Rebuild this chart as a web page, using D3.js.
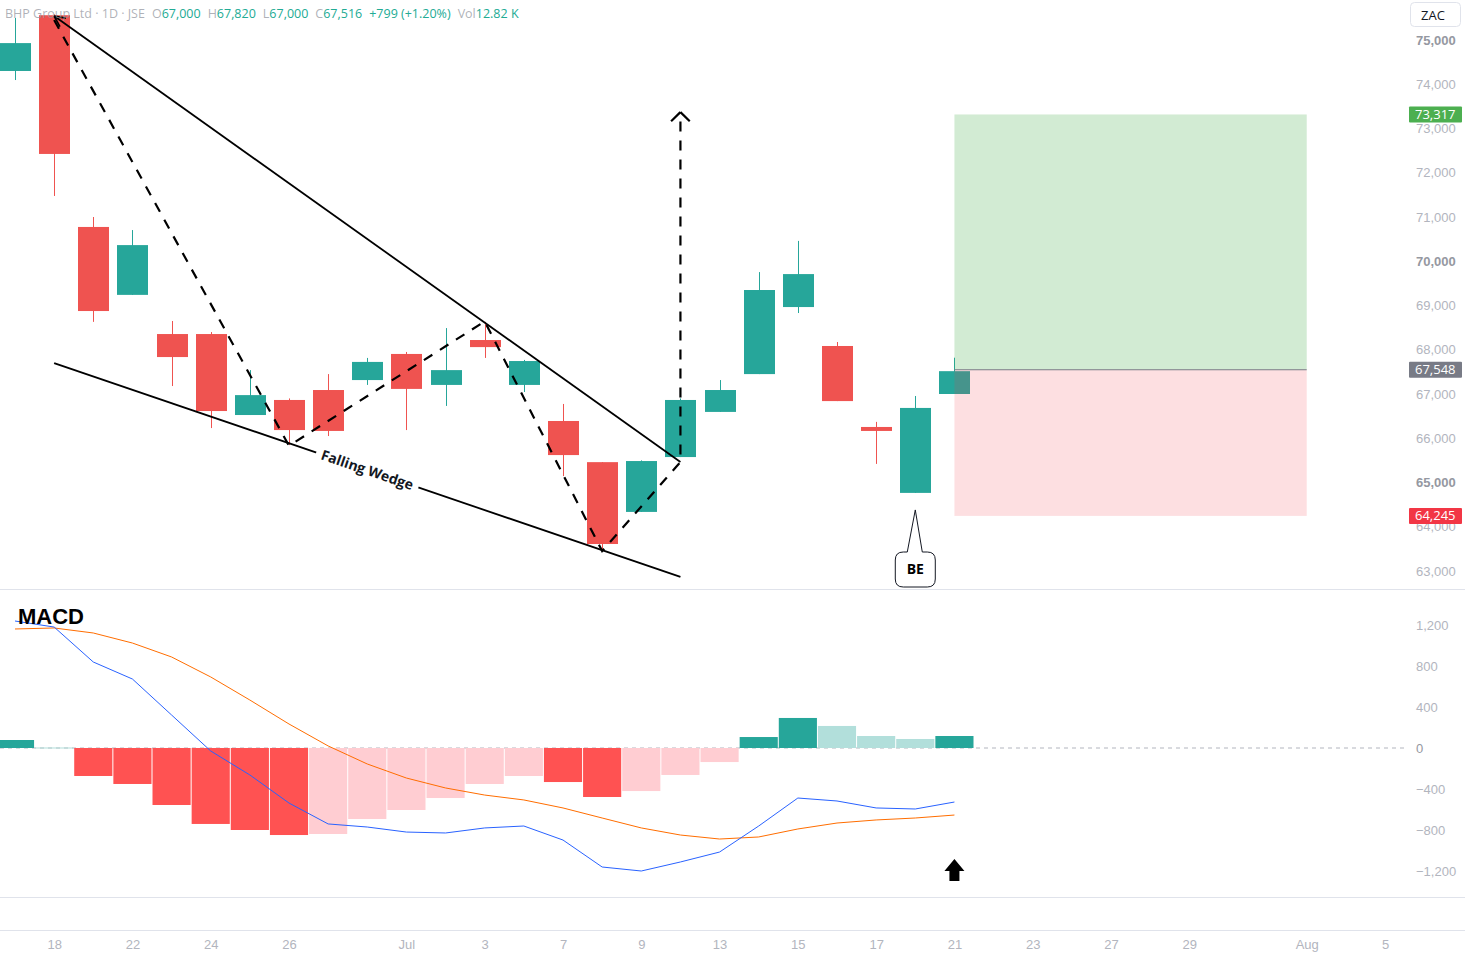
<!DOCTYPE html>
<html><head><meta charset="utf-8">
<script src="https://cdn.jsdelivr.net/npm/d3@7"></script>
<style>
body{margin:0;background:#fff}
svg{display:block;font-family:"Open Sans","Liberation Sans",Arial,sans-serif}
</style>
</head><body><svg id="c" width="1465" height="956"></svg>
<script>
// ---------- DATA ----------
const dates = ["Jun 17","Jun 18","Jun 19","Jun 22","Jun 23","Jun 24","Jun 25","Jun 26","Jun 29","Jun 30","Jul 1","Jul 2","Jul 3","Jul 6","Jul 7","Jul 8","Jul 9","Jul 10","Jul 13","Jul 14","Jul 15","Jul 16","Jul 17","Jul 20","Jul 21"];
const futureDays = ["Jul 22","Jul 23","Jul 24","Jul 27","Jul 28","Jul 29","Jul 30","Jul 31","Aug 3","Aug 4","Aug 5"];
const opens  = [74300,75560,70775,69240,68355,68355,66525,66865,67090,67315,67905,67205,68220,67205,66390,65460,64335,65575,66595,67450,68965,68085,66255,64765,67000];
const highs  = [75500,75580,71000,70705,68650,68400,67540,66900,67450,67815,67950,68490,68630,67770,66775,65460,65500,66900,67315,69755,70460,68175,66370,66955,67820];
const lows   = [74095,71475,68630,69240,67180,66230,66525,65845,66050,67205,66185,66730,67815,67045,65145,63450,64335,65575,66595,67450,68830,66840,65420,64765,67000];
const closes = [74930,72425,68875,70365,67835,66615,66975,66185,66165,67725,67115,67540,68060,67745,65620,63610,65485,66865,67090,69350,69710,66840,66165,66685,67516];

const macdLine   = [1239,1180,839,673,322,-29,-263,-537,-741,-771,-820,-829,-780,-761,-898,-1161,-1200,-1112,-1015,-761,-488,-517,-585,-595,-527];
const signalLine = [1161,1171,1122,1024,888,693,468,234,20,-156,-293,-390,-459,-507,-585,-683,-780,-849,-888,-868,-790,-732,-702,-683,-654];
const histogram  = [78,5,-273,-351,-556,-741,-800,-849,-839,-693,-605,-488,-351,-273,-332,-478,-420,-263,-137,107,293,215,117,88,117];

const priceTicks = [63000,64000,65000,66000,67000,68000,69000,70000,71000,72000,73000,74000,75000];
const boldPriceTicks = [65000,70000,75000];
const macdTicks = [-1200,-800,-400,0,400,800,1200];
const timeTickDays = ["Jun 18","Jun 22","Jun 24","Jun 26","Jul 1","Jul 3","Jul 7","Jul 9","Jul 13","Jul 15","Jul 17","Jul 21","Jul 23","Jul 27","Jul 29","Aug 3","Aug 5"];
const timeTickLabels = ["18","22","24","26","Jul","3","7","9","13","15","17","21","23","27","29","Aug","5"];

// position tool
const entryPrice = 67548, targetPrice = 73317, stopPrice = 64245;
const positionStart = "Jul 21", positionEnd = "Aug 3";

// drawings
const wedgeUpper = [["Jun 18",75540],["Jul 10",65465]];
const wedgeLower = [["Jun 18",67700],["Jul 10",62865]];
const zigzag = [["Jun 18",75450],["Jun 26",65830],["Jul 3",68640],["Jul 8",63450],["Jul 10",65465],["Jul 10",73370]];
const beAnchor = ["Jul 20",64380];
const upArrowAnchor = ["Jul 21",-1190];

const header = {name:"BHP Group Ltd · 1D · JSE", o:"67,000", h:"67,820", l:"67,000", c:"67,516", chg:"+799 (+1.20%)", vol:"12.82 K"};

// ---------- SCALES ----------
const W = 1465, H = 956;
const axisDays = dates.concat(futureDays);
const x = d3.scalePoint().domain(axisDays).range([15, 1385]);
const step = x.step();
const yP = d3.scaleLinear().domain([63000, 75000]).range([571, 40]);
const yM = d3.scaleLinear().domain([-1200, 1200]).range([871, 625]);

const up = "#26a69a", down = "#ef5350";
const svg = d3.select("#c");
const FS = 13;

// separators
const sepColor = "#e0e3eb";
[589.5, 897.5, 930.5].forEach(y => svg.append("line").attr("x1",0).attr("x2",W).attr("y1",y).attr("y2",y).attr("stroke",sepColor).attr("stroke-width",1));

// ---------- CANDLES ----------
const bodyW = 31;
const cg = svg.append("g");
dates.forEach((d,i) => {
  const col = closes[i] >= opens[i] ? up : down;
  const cx = Math.round(x(d)) + 0.5;
  cg.append("line").attr("x1",cx).attr("x2",cx).attr("y1",yP(highs[i])).attr("y2",yP(lows[i])).attr("stroke",col).attr("stroke-width",1);
  const top = yP(Math.max(opens[i],closes[i])), bot = yP(Math.min(opens[i],closes[i]));
  cg.append("rect").attr("x",Math.round(x(d)) - 15).attr("width",bodyW).attr("y",top).attr("height",Math.max(1,bot-top)).attr("fill",col);
});

// ---------- POSITION BOX ----------
const px0 = x(positionStart), px1 = x(positionEnd);
svg.append("rect").attr("x",px0).attr("width",px1-px0).attr("y",yP(targetPrice)).attr("height",yP(entryPrice)-yP(targetPrice)).attr("fill","rgba(76,175,80,0.25)");
svg.append("rect").attr("x",px0).attr("width",px1-px0).attr("y",yP(entryPrice)).attr("height",yP(stopPrice)-yP(entryPrice)).attr("fill","rgba(242,54,69,0.16)");
svg.append("line").attr("x1",px0).attr("x2",px1).attr("y1",yP(entryPrice)).attr("y2",yP(entryPrice)).attr("stroke","#787b86").attr("stroke-width",1);

// ---------- DRAWINGS ----------
const pt = p => [x(p[0]), yP(p[1])];
const dg = svg.append("g").attr("fill","none").attr("stroke","#000");
const u0 = pt(wedgeUpper[0]), u1 = pt(wedgeUpper[1]);
dg.append("line").attr("x1",u0[0]).attr("y1",u0[1]).attr("x2",u1[0]).attr("y2",u1[1]).attr("stroke-width",1.8);
function arrowHead(tip, from, len, spread, sw){
  const a = Math.atan2(tip[1]-from[1], tip[0]-from[0]);
  [a+Math.PI-spread, a+Math.PI+spread].forEach(b => {
    dg.append("line").attr("x1",tip[0]).attr("y1",tip[1]).attr("x2",tip[0]+len*Math.cos(b)).attr("y2",tip[1]+len*Math.sin(b)).attr("stroke-width",sw);
  });
}
arrowHead(u0, u1, 12, 0.45, 1.8);
const l0 = pt(wedgeLower[0]), l1 = pt(wedgeLower[1]);
dg.append("line").attr("x1",l0[0]).attr("y1",l0[1]).attr("x2",l1[0]).attr("y2",l1[1]).attr("stroke-width",1.8);
const zz = zigzag.map(pt);
dg.append("path").attr("d", d3.line()(zz)).attr("stroke-width",2.2).attr("stroke-dasharray","10,9");
arrowHead(zz[zz.length-1], zz[zz.length-2], 13, 0.8, 2.2);

// wedge label
const mx = (l0[0]+l1[0])/2, my = (l0[1]+l1[1])/2;
const ang = Math.atan2(l1[1]-l0[1], l1[0]-l0[0]) * 180/Math.PI;
const lbl = svg.append("g").attr("transform",`translate(${mx},${my}) rotate(${ang})`);
lbl.append("rect").attr("x",-54).attr("y",-8).attr("width",108).attr("height",16).attr("fill","#fff");
lbl.append("text").attr("text-anchor","middle").attr("dy","0.35em").attr("font-size",14).attr("font-weight","bold").attr("fill","#131722").text("Falling Wedge");

// BE callout
const be = pt(beAnchor);
const bx0 = be[0]-20, bx1 = be[0]+20, by0 = 552, by1 = 587, r = 8;
const bePath = `M${bx0+r},${by0} L${be[0]-8},${by0} L${be[0]},${be[1]} L${be[0]+7},${by0} L${bx1-r},${by0} Q${bx1},${by0} ${bx1},${by0+r} L${bx1},${by1-r} Q${bx1},${by1} ${bx1-r},${by1} L${bx0+r},${by1} Q${bx0},${by1} ${bx0},${by1-r} L${bx0},${by0+r} Q${bx0},${by0} ${bx0+r},${by0} Z`;
svg.append("path").attr("d",bePath).attr("fill","#fff").attr("stroke","#131722").attr("stroke-width",1);
svg.append("text").attr("x",be[0]).attr("y",(by0+by1)/2).attr("dy","0.35em").attr("text-anchor","middle").attr("font-size",14).attr("font-weight","bold").attr("fill","#000").text("BE");

// ---------- MACD ----------
svg.append("line").attr("x1",0).attr("x2",1405).attr("y1",yM(0)).attr("y2",yM(0)).attr("stroke","#b2b5be").attr("stroke-dasharray","4,4").attr("stroke-width",1);
const hg = svg.append("g");
histogram.forEach((v,i) => {
  const prev = i>0 ? histogram[i-1] : 0;
  let col;
  if (v >= 0) col = (i===0 || v > prev) ? "#26a69a" : "#b2dfdb";
  else col = (v < prev) ? "#ff5252" : "#ffcdd2";
  const cx = x(dates[i]);
  const y0 = yM(Math.max(0,v)), y1 = yM(Math.min(0,v));
  hg.append("rect").attr("x",cx-step/2+0.5).attr("width",step-1).attr("y",y0).attr("height",Math.max(1,y1-y0)).attr("fill",col);
});
const lineGen = d3.line().x((d,i)=>x(dates[i])).y(d=>yM(d));
svg.append("path").attr("d",lineGen(signalLine)).attr("fill","none").attr("stroke","#ff6d00").attr("stroke-width",1);
svg.append("path").attr("d",lineGen(macdLine)).attr("fill","none").attr("stroke","#2962ff").attr("stroke-width",1);
svg.append("text").attr("x",18).attr("y",624).attr("font-size",22).attr("font-weight","bold").attr("fill","#000").attr("font-family","Liberation Sans, Arial, sans-serif").text("MACD");

// up arrow
const ua = [x(upArrowAnchor[0]), yM(upArrowAnchor[1])];
svg.append("path").attr("d",`M${ua[0]},${ua[1]-11} L${ua[0]+10},${ua[1]+1} L${ua[0]+5},${ua[1]+1} L${ua[0]+5},${ua[1]+11} L${ua[0]-5},${ua[1]+11} L${ua[0]-5},${ua[1]+1} L${ua[0]-10},${ua[1]+1} Z`).attr("fill","#000");

// ---------- AXES ----------
const axCol = "#b2b5be";
const pAxis = svg.append("g").attr("transform","translate(1413,0)")
  .call(d3.axisRight(yP).tickValues(priceTicks).tickFormat(d3.format(",")).tickSize(0).tickPadding(3));
pAxis.select(".domain").remove();
pAxis.selectAll("text").attr("font-size",FS).attr("fill",d=>boldPriceTicks.includes(d)?"#9598a1":axCol).attr("font-weight",d=>boldPriceTicks.includes(d)?"bold":"normal").attr("font-family","inherit");

const mAxis = svg.append("g").attr("transform","translate(1413,0)")
  .call(d3.axisRight(yM).tickValues(macdTicks).tickFormat(d3.format(",")).tickSize(0).tickPadding(3));
mAxis.select(".domain").remove();
mAxis.selectAll("text").attr("font-size",FS).attr("fill",d=>d===0?"#9598a1":axCol).attr("font-family","inherit");

const tAxis = svg.append("g").attr("transform","translate(0,940)")
  .call(d3.axisBottom(x).tickValues(timeTickDays).tickFormat((d,i)=>timeTickLabels[i]).tickSize(0).tickPadding(0));
tAxis.select(".domain").remove();
tAxis.selectAll("text").attr("font-size",FS).attr("fill",axCol).attr("font-family","inherit");

// price labels on axis
function priceTag(v, bg){
  const y = yP(v);
  svg.append("rect").attr("x",1409).attr("y",y-8).attr("width",53).attr("height",16).attr("rx",1).attr("fill",bg);
  svg.append("text").attr("x",1415).attr("y",y).attr("dy","0.35em").attr("font-size",FS).attr("fill","#fff").text(d3.format(",")(v));
}
priceTag(targetPrice, "#4caf50");
priceTag(entryPrice, "#787b86");
priceTag(stopPrice, "#f23645");

// currency box
svg.append("rect").attr("x",1410.5).attr("y",2.5).attr("width",50).attr("height",24).attr("rx",4).attr("fill","#fff").attr("stroke","#e0e3eb");
svg.append("text").attr("x",1433).attr("y",15).attr("dy","0.35em").attr("text-anchor","middle").attr("font-size",FS).attr("fill","#131722").text("ZAC");

// ---------- HEADER ----------
const valCol = "#22ab94", lblCol = "#9598a1";
const ht = svg.append("text").attr("x",5).attr("y",18).attr("font-size",12.5).attr("fill",lblCol).attr("fill-opacity",0.75);
ht.append("tspan").text(header.name);
ht.append("tspan").attr("dx",7).text("O");
ht.append("tspan").attr("fill",valCol).attr("fill-opacity",1).text(header.o);
ht.append("tspan").attr("dx",7).text("H");
ht.append("tspan").attr("fill",valCol).attr("fill-opacity",1).text(header.h);
ht.append("tspan").attr("dx",7).text("L");
ht.append("tspan").attr("fill",valCol).attr("fill-opacity",1).text(header.l);
ht.append("tspan").attr("dx",7).text("C");
ht.append("tspan").attr("fill",valCol).attr("fill-opacity",1).text(header.c);
ht.append("tspan").attr("dx",7).attr("fill",valCol).attr("fill-opacity",1).text(header.chg);
ht.append("tspan").attr("dx",7).text("Vol");
ht.append("tspan").attr("fill",valCol).attr("fill-opacity",1).text(header.vol);
</script>
</body></html>
